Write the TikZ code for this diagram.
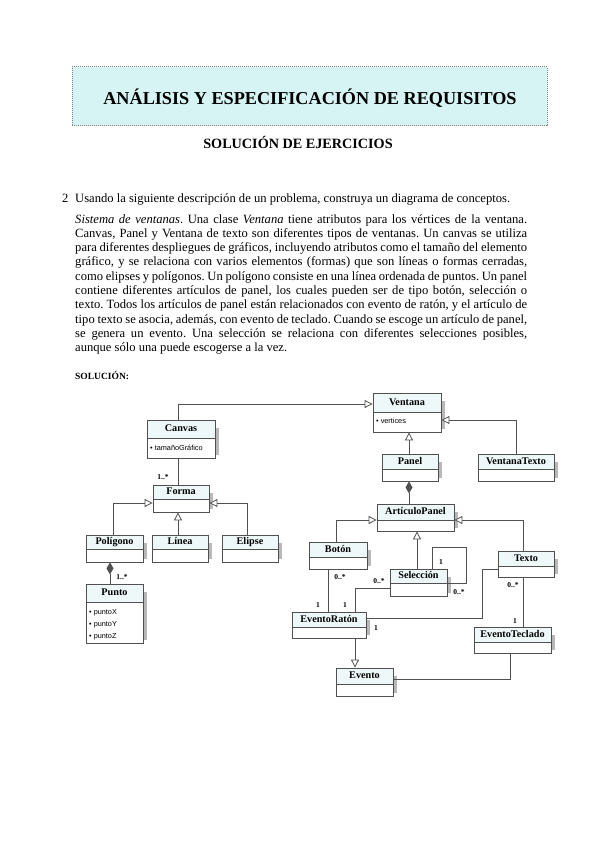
\documentclass[tikz,border=0pt]{standalone}
\usepackage{fontspec}
\setmainfont{Liberation Serif}[WordSpace={1,1,1.6}]
\newfontfamily\attrfont{Liberation Sans}
\usetikzlibrary{arrows.meta,fit}
\definecolor{lc}{HTML}{505050}
\definecolor{headc}{HTML}{EEF8F8}
\definecolor{shadc}{HTML}{B8B8B8}
\definecolor{titlec}{HTML}{D6F4F4}
\frenchspacing
\newcommand\umlcls[7]{%
  \fill[shadc] (#4,#3+8) rectangle (#4+4,#6-3);
  \fill[headc] (#2,#3) rectangle (#4,#5);
  \node[fit={(#2,#3) (#4,#6)}, inner sep=0pt, draw=lc, line width=0.8pt] (#1) {};
  \draw[lc, line width=0.8pt] (#2,#5) -- (#4,#5);
  \node[clsname] (#1-name) at ({(#2+#4)/2},{(#3+#5)/2}) {#7};
}
\newcommand\jline[1]{\hbox to 452pt{#1}}
\tikzset{
  conn/.style={draw=lc, line width=0.8pt},
  gen/.style={conn, -{Triangle[open, length=8pt, width=8pt, fill=white]}},
  comp/.style={conn, {Diamond[length=12pt, width=7pt]}-},
  clsname/.style={font=\fontsize{10.2}{12}\selectfont\bfseries, inner sep=0pt, text height=7pt, text depth=2pt},
  attr/.style={font=\attrfont\fontsize{7.3}{8}\selectfont, anchor=west, inner sep=0pt},
  mult/.style={font=\fontsize{7.5}{8}\selectfont\bfseries, inner sep=0pt},
  bodyline/.style={anchor=base west, inner sep=0pt, font=\fontsize{12.6}{14}\selectfont\frenchspacing},
}
\begin{document}
\begin{tikzpicture}[x=1pt,y=-1pt]
\useasboundingbox (0,0) rectangle (599,848);
\fill[white] (0,0) rectangle (599,848);
% title box
\node[fit={(72,67) (547,126)}, inner sep=0pt, fill=titlec, draw=gray, densely dotted, line width=1pt] (titlebox) {};
\node[anchor=base, inner sep=0pt, font=\fontsize{18.2}{20}\selectfont\bfseries] (title) at (310,105) {ANÁLISIS Y ESPECIFICACIÓN DE REQUISITOS};
\node[anchor=base, inner sep=0pt, font=\fontsize{14.2}{16}\selectfont\bfseries] (subtitle) at (298,149) {SOLUCIÓN DE EJERCICIOS};
% exercise text
\node[bodyline] (num) at (62,202.5) {2};
\node[bodyline] (q) at (75,202.5) {Usando la siguiente descripción de un problema, construya un diagrama de conceptos.};
\node[bodyline] (l1) at (75,223) {\jline{\textit{Sistema de ventanas}. Una clase \textit{Ventana} tiene atributos para los vértices de la ventana.}};
\node[bodyline] (l2) at (75,237.3) {\jline{Canvas, Panel y Ventana de texto son diferentes tipos de ventanas. Un canvas se utiliza}};
\node[bodyline] (l3) at (75,251.6) {\jline{para diferentes despliegues de gráficos, incluyendo atributos como el tamaño del elemento}};
\node[bodyline] (l4) at (75,265.9) {\jline{gráfico, y se relaciona con varios elementos (formas) que son líneas o formas cerradas,}};
\node[bodyline] (l5) at (75,280.2) {\jline{como elipses y polígonos. Un polígono consiste en una línea ordenada de puntos. Un panel}};
\node[bodyline] (l6) at (75,294.5) {\jline{contiene diferentes artículos de panel, los cuales pueden ser de tipo botón, selección o}};
\node[bodyline] (l7) at (75,308.8) {\jline{texto. Todos los artículos de panel están relacionados con evento de ratón, y el artículo de}};
\node[bodyline] (l8) at (75,323.1) {\jline{tipo texto se asocia, además, con evento de teclado. Cuando se escoge un artículo de panel,}};
\node[bodyline] (l9) at (75,337.4) {\jline{se genera un evento. Una selección se relaciona con diferentes selecciones posibles,}};
\node[bodyline] (l10) at (75,351.7) {aunque sólo una puede escogerse a la vez.};
\node[anchor=base west, inner sep=0pt, font=\fontsize{9.5}{11}\selectfont\bfseries] (sol) at (75,379) {SOLUCIÓN:};
% classes
\umlcls{canvas}{147}{420}{215}{438}{458}{Canvas}
\node[attr] (canvas-a) at (150,448) {• tamañoGráfico};
\umlcls{ventana}{373}{393}{441}{412}{432}{Ventana}
\node[attr] (ventana-a) at (376,421) {• vertices};
\umlcls{panel}{382}{454}{438}{469}{481}{Panel}
\umlcls{vtexto}{478}{454}{554}{469}{481}{VentanaTexto}
\umlcls{artpanel}{377}{504}{454}{520}{531}{ArtículoPanel}
\umlcls{boton}{309}{542}{367}{557}{569}{Botón}
\umlcls{seleccion}{390}{569}{447}{583}{596}{Selección}
\umlcls{texto}{498}{551}{554}{566}{577}{Texto}
\umlcls{eraton}{292}{612}{366}{627}{638}{EventoRatón}
\umlcls{eteclado}{474}{627}{551}{642}{653}{EventoTeclado}
\umlcls{evento}{336}{668}{393}{684}{696}{Evento}
\umlcls{forma}{153}{485}{209}{499}{512}{Forma}
\umlcls{poligono}{86}{535}{143}{549}{562}{Polígono}
\umlcls{linea}{152}{535}{208}{549}{562}{Línea}
\umlcls{elipse}{222}{535}{278}{549}{562}{Elipse}
\umlcls{punto}{86}{584}{143}{602}{643}{Punto}
\node[attr] (punto-x) at (89,613) {• puntoX};
\node[attr] (punto-y) at (89,625) {• puntoY};
\node[attr] (punto-z) at (89,637) {• puntoZ};
% connectors
\draw[gen] (canvas.north -| 178,0) |- (ventana.west |- 0,404);
\draw[gen] (vtexto.north -| 516,0) |- (ventana.east |- 0,420);
\draw[gen] (panel.north -| 409,0) -- (ventana.south -| 409,0);
\draw[comp] (panel.south -| 409,0) -- (artpanel.north -| 409,0);
\draw[gen] (boton.north -| 336,0) |- (artpanel.west |- 0,520);
\draw[gen] (texto.north -| 523,0) |- (artpanel.east |- 0,520);
\draw[gen] (seleccion.north -| 417,0) -- (artpanel.south -| 417,0);
\draw[conn] (seleccion.north -| 432,0) |- (466,547) |- (seleccion.east |- 0,583);
\draw[conn] (boton.south -| 328,0) -- (eraton.north -| 328,0);
\draw[conn] (seleccion.west |- 0,588) -| (eraton.north -| 355,0);
\draw[conn] (eraton.east |- 0,618) -| (482,569) -- (texto.west |- 0,569);
\draw[conn] (texto.south -| 523,0) -- (eteclado.north -| 523,0);
\draw[gen] (eraton.south -| 355,0) -- (evento.north -| 355,0);
\draw[conn] (eteclado.south -| 510,0) |- (evento.east |- 0,679);
\draw[conn] (canvas.south -| 178,0) -- (forma.north -| 178,0);
\draw[gen] (poligono.north -| 113,0) |- (forma.west |- 0,503);
\draw[gen] (linea.north -| 178,0) -- (forma.south -| 178,0);
\draw[gen] (elipse.north -| 247,0) |- (forma.east |- 0,503);
\draw[comp] (poligono.south -| 110,0) -- (punto.north -| 110,0);
% multiplicities
\node[mult] (m1) at (163,477) {1..*};
\node[mult] (m2) at (122,577) {1..*};
\node[mult] (m3) at (340,577) {0..*};
\node[mult] (m4) at (318,605) {1};
\node[mult] (m5) at (379,581) {0..*};
\node[mult] (m6) at (345,605) {1};
\node[mult] (m7) at (441,562) {1};
\node[mult] (m8) at (459,592) {0..*};
\node[mult] (m9) at (376,628) {1};
\node[mult] (m10) at (513,585) {0..*};
\node[mult] (m11) at (515,621) {1};
\end{tikzpicture}
\end{document}
